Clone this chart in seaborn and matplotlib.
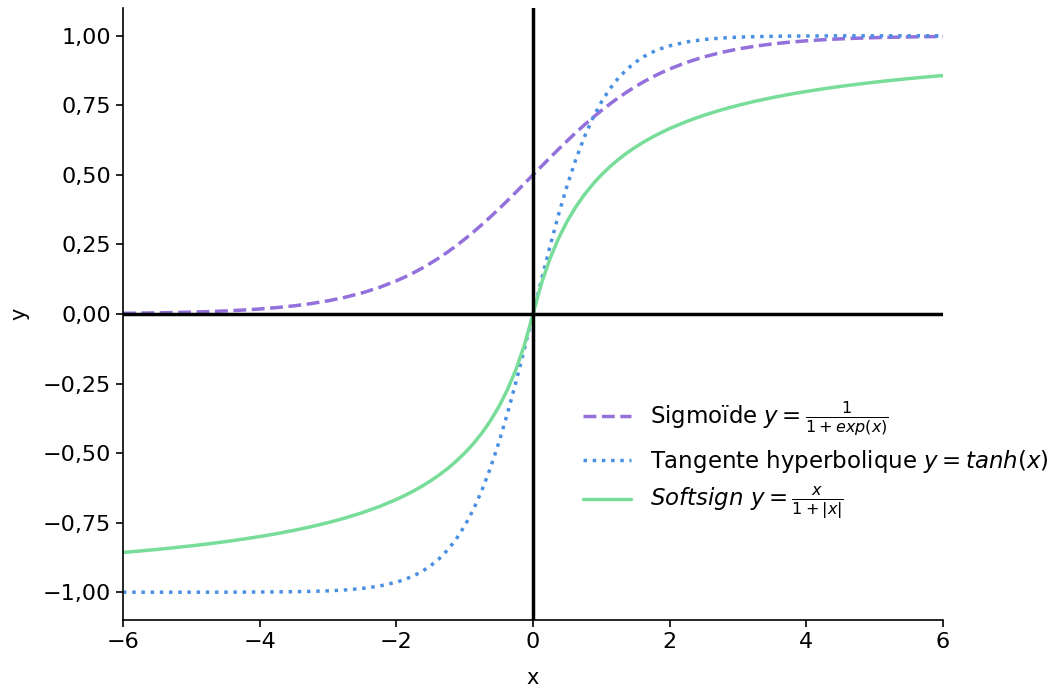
import matplotlib
matplotlib.use("Agg")
import matplotlib.pyplot as plt
import seaborn as sns
import pandas as pd
from matplotlib.ticker import FuncFormatter

# values (positive half, the curves are mirrored)
x_pos = [0, 0.125, 0.25, 0.375, 0.5, 0.625, 0.75, 0.875, 1, 1.125, 1.25, 1.375,
         1.5, 1.625, 1.75, 1.875, 2, 2.25, 2.5, 2.75, 3, 3.25, 3.5, 3.75, 4,
         4.25, 4.5, 4.75, 5, 5.25, 5.5, 5.75, 6]
sig_pos = [0.5, 0.5312, 0.5622, 0.5927, 0.6225, 0.6514, 0.6792, 0.7058, 0.7311,
           0.7549, 0.7773, 0.7982, 0.8176, 0.8355, 0.8520, 0.8670, 0.8808,
           0.9047, 0.9241, 0.9399, 0.9526, 0.9627, 0.9707, 0.9770, 0.9820,
           0.9859, 0.9890, 0.9914, 0.9933, 0.9948, 0.9959, 0.9968, 0.9975]
tanh_pos = [0.0, 0.1244, 0.2449, 0.3584, 0.4621, 0.5546, 0.6351, 0.7039, 0.7616,
            0.8096, 0.8483, 0.8799, 0.9051, 0.9258, 0.9414, 0.9541, 0.9640,
            0.9780, 0.9866, 0.9919, 0.9951, 0.9970, 0.9982, 0.9989, 0.9993,
            0.9996, 0.9998, 0.9999, 0.9999, 1.0, 1.0, 1.0, 1.0]
soft_pos = [0.0, 0.1111, 0.2, 0.2727, 0.3333, 0.3846, 0.4286, 0.4667, 0.5,
            0.5294, 0.5556, 0.5789, 0.6, 0.6190, 0.6364, 0.6522, 0.6667,
            0.6923, 0.7143, 0.7333, 0.75, 0.7647, 0.7778, 0.7895, 0.8,
            0.8095, 0.8182, 0.8261, 0.8333, 0.84, 0.8462, 0.8519, 0.8571]

x_vals = [-v for v in x_pos[:0:-1]] + x_pos
sigmoid = [round(1 - v, 4) for v in sig_pos[:0:-1]] + sig_pos
tanh = [-v for v in tanh_pos[:0:-1]] + tanh_pos
softsign = [-v for v in soft_pos[:0:-1]] + soft_pos

labels = [r'Sigmoïde $y = \frac{1}{1 + exp(x)}$',
          r'Tangente hyperbolique $y = tanh(x)$',
          r'$Softsign\ y = \frac{x}{1 + |x|}$']
colors = ['#9370DB', '#4A90E2', '#77DD99']
styles = ['--', ':', '-']

sns.set_style("ticks")
plt.rcParams['font.family'] = ['DejaVu Sans']
for k in ['text.color', 'axes.labelcolor', 'xtick.color', 'ytick.color',
          'axes.edgecolor']:
    plt.rcParams[k] = 'black'

fig, ax = plt.subplots(figsize=(10.54, 6.88), dpi=100)
fig.subplots_adjust(left=0.1167, right=0.8947, top=0.9884, bottom=0.0988)

for ys, lab, c, ls in zip([sigmoid, tanh, softsign], labels, colors, styles):
    df = pd.DataFrame({'x': x_vals, 'y': ys})
    sns.lineplot(data=df, x='x', y='y', ax=ax, color=c, linestyle=ls,
                 linewidth=2.5, label=lab)

ax.axhline(0, color='black', linewidth=2.5)
ax.axvline(0, color='black', linewidth=2.5)

ax.set_xlim(-6, 6)
ax.set_ylim(-1.1, 1.1)
ax.set_yticks([-1, -0.75, -0.5, -0.25, 0, 0.25, 0.5, 0.75, 1])
ax.set_xticks([-6, -4, -2, 0, 2, 4, 6])
ax.yaxis.set_major_formatter(FuncFormatter(
    lambda v, p: f'{v:.2f}'.replace('.', ',').replace('-', '\u2212')))
ax.xaxis.set_major_formatter(FuncFormatter(
    lambda v, p: f'{v:.0f}'.replace('-', '\u2212')))
ax.tick_params(labelsize=16, width=1.2, length=5)
ax.set_xlabel('x', fontsize=15, labelpad=12)
ax.set_ylabel('y', fontsize=15, labelpad=10)
for s in ax.spines.values():
    s.set_linewidth(1.2)
sns.despine(ax=ax)

ax.legend(loc='upper left', bbox_to_anchor=(0.536, 0.393), frameon=False,
          fontsize=16.5, handlelength=2.1, labelspacing=0.42)

plt.savefig('out.png', dpi=100)
plt.close()
